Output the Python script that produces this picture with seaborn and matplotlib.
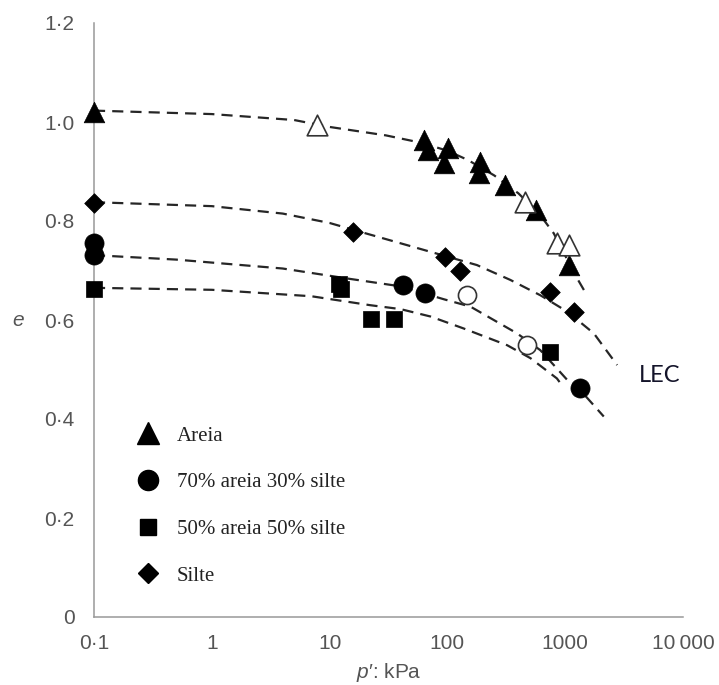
import numpy as np
import pandas as pd
import matplotlib
matplotlib.use('Agg')
import matplotlib.pyplot as plt
from matplotlib.lines import Line2D
import seaborn as sns

# marker data (p' in kPa, e)
areia_p = [0.1, 63, 69, 102, 93, 190, 184, 311, 560, 1074]
areia_e = [1.020, 0.964, 0.943, 0.947, 0.917, 0.920, 0.896, 0.873, 0.822, 0.711]
areia_open_p = [7.8, 459, 853, 1074]
areia_open_e = [0.994, 0.839, 0.755, 0.752]

a70_p = [0.1, 0.1, 42, 65, 1346]
a70_e = [0.755, 0.731, 0.671, 0.654, 0.462]
a70_open_p = [146, 474]
a70_open_e = [0.650, 0.549]

a50_p = [0.1, 12, 12.5, 22.4, 34.9, 748]
a50_e = [0.662, 0.672, 0.662, 0.602, 0.602, 0.536]

silte_p = [0.1, 15.8, 96, 129, 748, 1180]
silte_e = [0.836, 0.777, 0.728, 0.698, 0.657, 0.617]

# dashed curves, points
curve_areia_p = [0.1, 1, 5, 10, 30, 60, 100, 150, 250, 400, 600, 800, 1000, 1250, 1530]
curve_areia_e = [1.023, 1.016, 1.004, 0.990, 0.973, 0.958, 0.942, 0.923, 0.892, 0.856, 0.815, 0.775, 0.730, 0.686, 0.650]
curve_silte_p = [0.1, 1, 4, 10, 16, 40, 100, 178, 342, 615, 1040, 1750, 2760]
curve_silte_e = [0.838, 0.830, 0.815, 0.796, 0.782, 0.755, 0.728, 0.711, 0.681, 0.650, 0.617, 0.573, 0.509]
curve_a70_p = [0.1, 0.5, 4, 14, 40, 93, 157, 390, 615, 1040, 1300, 2125]
curve_a70_e = [0.731, 0.722, 0.704, 0.684, 0.668, 0.642, 0.627, 0.573, 0.539, 0.479, 0.462, 0.405]
curve_a50_p = [0.1, 1, 7, 22, 40, 72, 137, 322, 506, 850, 900]
curve_a50_e = [0.665, 0.661, 0.648, 0.630, 0.622, 0.607, 0.583, 0.549, 0.523, 0.482, 0.474]

legend_labels = ['Areia', '70% areia 30% silte', '50% areia 50% silte', 'Silte']
x_ticks = [0.1, 1, 10, 100, 1000, 10000]
x_ticklabels = ['0\u00b71', '1', '10', '100', '1000', '10\u2009000']
y_ticks = [0, 0.2, 0.4, 0.6, 0.8, 1.0, 1.2]
y_ticklabels = ['0', '0\u00b72', '0\u00b74', '0\u00b76', '0\u00b78', '1\u00b70', '1\u00b72']

sns.set_style('white')
plt.rcParams['font.family'] = ['Liberation Sans', 'DejaVu Sans']
plt.rcParams['mathtext.fontset'] = 'custom'
plt.rcParams['mathtext.it'] = 'Liberation Sans:italic'
plt.rcParams['mathtext.rm'] = 'Liberation Sans'

fig = plt.figure(figsize=(7.19, 6.85), dpi=100)
ax = fig.add_axes([94 / 719, 1 - 617 / 685, 589 / 719, 594 / 685])
ax.set_xscale('log')

# curves
curves = [(curve_areia_p, curve_areia_e), (curve_silte_p, curve_silte_e),
          (curve_a70_p, curve_a70_e), (curve_a50_p, curve_a50_e)]
for cp, ce in curves:
    sns.lineplot(x=cp, y=ce, ax=ax, color='#262626', lw=1.6, sort=False,
                 estimator=None, linestyle=(0, (5, 3.2)), zorder=2)

# markers
black = dict(color='black', edgecolor='black', linewidth=0.5, zorder=3,
             legend=False, clip_on=False)
opn = dict(color='white', edgecolor='#333333', linewidth=1.2, zorder=3,
           legend=False, clip_on=False)
sns.scatterplot(x=areia_p, y=areia_e, marker='^', s=220, ax=ax, **black)
sns.scatterplot(x=areia_open_p, y=areia_open_e, marker='^', s=220, ax=ax, **opn)
sns.scatterplot(x=a70_p, y=a70_e, marker='o', s=190, ax=ax, **black)
sns.scatterplot(x=a70_open_p, y=a70_open_e, marker='o', s=170, ax=ax, **opn)
sns.scatterplot(x=a50_p, y=a50_e, marker='s', s=140, ax=ax, **black)
sns.scatterplot(x=silte_p, y=silte_e, marker='D', s=100, ax=ax, **black)

ax.set_xlim(0.1, 10000)
ax.set_ylim(0, 1.2)
ax.set_xticks(x_ticks)
ax.set_xticklabels(x_ticklabels)
ax.minorticks_off()
ax.set_yticks(y_ticks)
ax.set_yticklabels(y_ticklabels)
ax.tick_params(axis='both', direction='out', width=1.1, color='#999999',
               labelsize=15, labelcolor='#555555')
ax.tick_params(axis='x', length=6, pad=6)
ax.tick_params(axis='y', length=8, pad=6)

for side in ['top', 'right']:
    ax.spines[side].set_visible(False)
for side in ['left', 'bottom']:
    ax.spines[side].set_color('#999999')
    ax.spines[side].set_linewidth(1.1)

ax.set_xlabel('$p$\u2032: kPa', fontsize=15, color='#555555', va='center')
ax.xaxis.set_label_coords(0.5, (617 - 672) / 594)
ax.set_ylabel('e', fontsize=15, color='#555555', style='italic', rotation=0,
              va='center', ha='center')
ax.yaxis.set_label_coords((18 - 94) / 589, 0.5)

fig.text(660 / 719, 1 - 376 / 685, 'LEC', family='Lato', fontsize=17,
         color='#14142a', ha='center', va='center')

handles = [Line2D([], [], marker=m, color='black', linestyle='none', markersize=ms)
           for m, ms in [('^', 16), ('o', 14.5), ('s', 12), ('D', 10)]]
ax.legend(handles, legend_labels, loc='upper left',
          bbox_to_anchor=(137.5 / 719, 1 - 426 / 685), bbox_transform=fig.transFigure,
          frameon=False, borderpad=0, borderaxespad=0, handlelength=1.0,
          handletextpad=0.9, labelspacing=1.3,
          prop={'family': 'Liberation Serif', 'size': 15}, labelcolor='#222222')

fig.savefig('out.png', dpi=100)
